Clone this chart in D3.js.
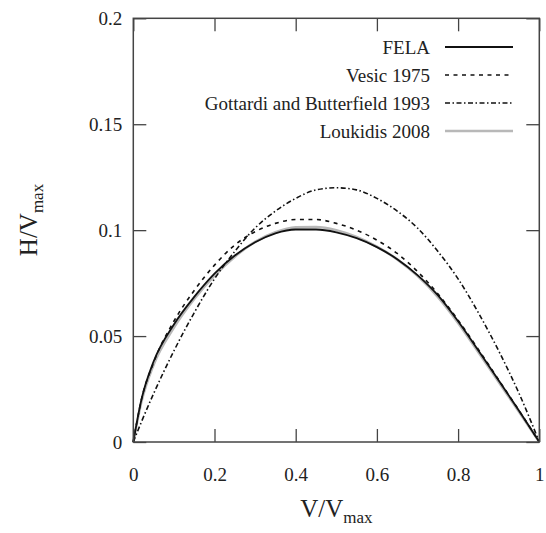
<!DOCTYPE html>
<html lang="en">
<head>
    <meta charset="UTF-8">
    <title>Failure envelopes</title>
    <script src="https://cdn.jsdelivr.net/npm/d3@7"></script>
    <style>
        body { margin: 0; background: #fff; }
    </style>
</head>
<body>
<div id="chart"></div>
<script>
// V/Vmax sample points and H/Vmax readings for each curve
const vPts = [0, 0.02, 0.05, 0.1, 0.15, 0.2, 0.25, 0.3, 0.35, 0.4, 0.45, 0.5, 0.55, 0.6, 0.65, 0.7, 0.75, 0.8, 0.85, 0.9, 0.95, 1];
const fela      = [0, 0.020, 0.038, 0.0555, 0.0685, 0.0795, 0.0880, 0.0943, 0.0985, 0.1003, 0.1003, 0.0990, 0.0962, 0.0920, 0.0863, 0.0788, 0.0693, 0.0570, 0.0432, 0.0290, 0.0148, 0];
const vesic     = [0, 0.020, 0.0375, 0.057, 0.0715, 0.0835, 0.0930, 0.0993, 0.1032, 0.1050, 0.1050, 0.1032, 0.1000, 0.0953, 0.0890, 0.0805, 0.0700, 0.0575, 0.0437, 0.0293, 0.0149, 0];
const gottardi  = [0, 0.0095, 0.0228, 0.043, 0.061, 0.077, 0.090, 0.101, 0.109, 0.115, 0.119, 0.120, 0.119, 0.115, 0.109, 0.101, 0.090, 0.077, 0.061, 0.043, 0.023, 0];
const loukidis  = [0, 0.019, 0.0365, 0.054, 0.0675, 0.0785, 0.0875, 0.0945, 0.0990, 0.1013, 0.1015, 0.1000, 0.0968, 0.0922, 0.0862, 0.0784, 0.0685, 0.0562, 0.0424, 0.0283, 0.0143, 0];

const seriesNames = ["FELA", "Vesic 1975", "Gottardi and Butterfield 1993", "Loukidis 2008"];
const xTicks = [0, 0.2, 0.4, 0.6, 0.8, 1];
const yTicks = [0, 0.05, 0.1, 0.15, 0.2];

const W = 546, H = 533;
const margin = {top: 18.3, right: 6.7, bottom: 91, left: 133.3};
const serif = '"Liberation Serif", "DejaVu Serif", serif';

const svg = d3.select("#chart").append("svg")
    .attr("width", W)
    .attr("height", H)
    .style("font-family", serif);

const x = d3.scaleLinear().domain([0, 1]).range([margin.left, W - margin.right]);
const y = d3.scaleLinear().domain([0, 0.2]).range([H - margin.bottom, margin.top]);

const styles = [
    {data: fela, stroke: "#111", width: 1.8, dash: null},
    {data: vesic, stroke: "#111", width: 1.6, dash: "4,4.5"},
    {data: gottardi, stroke: "#111", width: 1.6, dash: "5,2.5,1.5,2.5"},
    {data: loukidis, stroke: "#b8b8b8", width: 2.6, dash: null}
];

const line = d3.line()
    .x(d => x(d[0]))
    .y(d => y(d[1]))
    .curve(d3.curveMonotoneX);

// loukidis goes underneath
const plot = svg.append("g");
[3, 0, 1, 2].forEach(i => {
    const s = styles[i];
    plot.append("path")
        .datum(vPts.map((v, k) => [v, s.data[k]]))
        .attr("fill", "none")
        .attr("stroke", s.stroke)
        .attr("stroke-width", s.width)
        .attr("stroke-dasharray", s.dash)
        .attr("d", line);
});

// axes, ticks pointing inwards and mirrored
const fmt = d => String(d);
const tk = 13;
const axisStyle = g => {
    g.attr("font-family", null);
    g.select(".domain").remove();
    g.selectAll(".tick line").attr("stroke", "#444").attr("stroke-width", 1.3);
    g.selectAll(".tick text")
        .attr("font-size", 19)
        .style("font-family", serif)
        .attr("fill", "#222");
};

svg.append("g")
    .attr("transform", `translate(0,${y(0)})`)
    .call(d3.axisBottom(x).tickValues(xTicks).tickFormat(fmt).tickSize(-tk).tickPadding(26))
    .call(axisStyle);
svg.append("g")
    .attr("transform", `translate(0,${y(0.2)})`)
    .call(d3.axisTop(x).tickValues(xTicks).tickFormat("").tickSize(-tk))
    .call(axisStyle);
svg.append("g")
    .attr("transform", `translate(${x(0)},0)`)
    .call(d3.axisLeft(y).tickValues(yTicks).tickFormat(fmt).tickSize(-tk).tickPadding(11))
    .call(axisStyle);
svg.append("g")
    .attr("transform", `translate(${x(1)},0)`)
    .call(d3.axisRight(y).tickValues(yTicks).tickFormat("").tickSize(-tk))
    .call(axisStyle);

// frame
svg.append("rect")
    .attr("x", x(0)).attr("y", y(0.2))
    .attr("width", x(1) - x(0)).attr("height", y(0) - y(0.2))
    .attr("fill", "none")
    .attr("stroke", "#444")
    .attr("stroke-width", 1.5);

// axis titles
const xt = svg.append("text")
    .attr("x", (x(0) + x(1)) / 2)
    .attr("y", 517)
    .attr("text-anchor", "middle")
    .attr("font-size", 25)
    .attr("fill", "#222")
    .style("font-family", serif);
xt.append("tspan").text("V/V");
xt.append("tspan").attr("font-size", 17).attr("dy", 6).text("max");

const yt = svg.append("text")
    .attr("transform", `translate(37,${220}) rotate(-90)`)
    .attr("text-anchor", "middle")
    .attr("font-size", 25)
    .attr("fill", "#222")
    .style("font-family", serif);
yt.append("tspan").text("H/V");
yt.append("tspan").attr("font-size", 17).attr("dy", 6).text("max");

// legend
const legend = svg.append("g");
seriesNames.forEach((name, i) => {
    const s = styles[i];
    const ly = 47 + i * 28;
    legend.append("text")
        .attr("x", 430).attr("y", ly)
        .attr("dy", "0.35em")
        .attr("text-anchor", "end")
        .attr("font-size", 19)
        .attr("fill", "#222")
        .style("font-family", serif)
        .text(name);
    legend.append("line")
        .attr("x1", 445).attr("x2", 513)
        .attr("y1", ly).attr("y2", ly)
        .attr("stroke", s.stroke)
        .attr("stroke-width", s.width)
        .attr("stroke-dasharray", s.dash);
});
</script>
</body>
</html>
